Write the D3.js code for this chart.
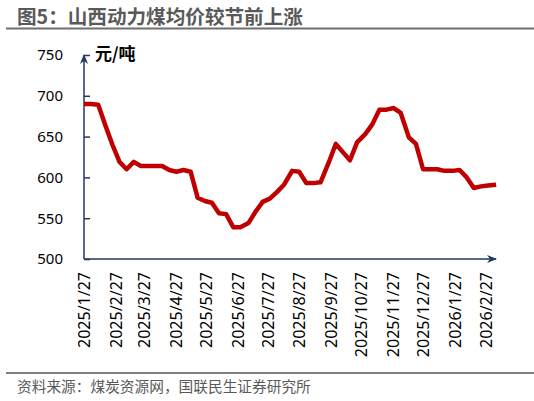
<!DOCTYPE html>
<html>
<head>
<meta charset="utf-8">
<script src="https://cdn.jsdelivr.net/npm/d3@7"></script>
<style>
    body { margin: 0; background: #fff; }
    svg { display: block; }
    .ylab text { font-family: "Noto Sans", sans-serif; font-size: 15px; fill: #000; }
    .xlab text { font-family: "Noto Sans", sans-serif; font-size: 16px; fill: #000; }
</style>
</head>
<body>
<svg id="chart" width="534" height="401"></svg>
<script>
// weekly Shanxi thermal coal average price, yuan/ton
let dates = ["2025-01-27","2025-02-03","2025-02-10","2025-02-17","2025-02-24",
    "2025-03-03","2025-03-10","2025-03-17","2025-03-24","2025-03-31",
    "2025-04-07","2025-04-14","2025-04-21","2025-04-28",
    "2025-05-05","2025-05-12","2025-05-19","2025-05-26",
    "2025-06-02","2025-06-09","2025-06-16","2025-06-23","2025-06-30",
    "2025-07-08","2025-07-15","2025-07-22","2025-07-29",
    "2025-08-05","2025-08-12","2025-08-20","2025-08-27",
    "2025-09-03","2025-09-10","2025-09-17","2025-09-25",
    "2025-10-02","2025-10-09","2025-10-16","2025-10-23","2025-10-31",
    "2025-11-07","2025-11-14","2025-11-21","2025-11-28",
    "2025-12-05","2025-12-13","2025-12-20","2025-12-27",
    "2026-01-03","2026-01-10","2026-01-17","2026-01-25",
    "2026-02-01","2026-02-08","2026-02-15","2026-02-22",
    "2026-03-01","2026-03-09"];

let prices = [690,690,689,664,640,619,610,619,614,614,
    614,614,609,607,609,607,575,571,569,556,
    555,539,539,544,558,570,574,582,591,608,
    607,593,593,594,618,641,631,621,643,653,
    665,683,683,685,679,649,641,610,610,610,
    608,608,609,600,587,589,590,591];

let xTicks = ["2025/1/27","2025/2/27","2025/3/27","2025/4/27","2025/5/27",
    "2025/6/27","2025/7/27","2025/8/27","2025/9/27","2025/10/27",
    "2025/11/27","2025/12/27","2026/1/27","2026/2/27"];

let yTicks = [500, 550, 600, 650, 700, 750];

let parseDash = d3.timeParse("%Y-%m-%d");
let parseSlash = d3.timeParse("%Y/%m/%d");

let data = dates.map(function(d, i) {
    return {date: parseDash(d), value: prices[i]};
});

let svg = d3.select("#chart");
let axisColor = "#203864";

// title and rules
svg.append("text")
    .attr("x", 17).attr("y", 24)
    .style("font-family", "'Noto Sans CJK SC', sans-serif")
    .style("font-weight", "bold")
    .style("font-size", "19.6px")
    .style("fill", "#595959")
    .text("图5：山西动力煤均价较节前上涨");

svg.append("line")
    .attr("x1", 6).attr("x2", 534).attr("y1", 28.5).attr("y2", 28.5)
    .style("stroke", "#6e6e6e").style("stroke-width", 2);

svg.append("line")
    .attr("x1", 6).attr("x2", 534).attr("y1", 373).attr("y2", 373)
    .style("stroke", "#7f7f7f").style("stroke-width", 2);

svg.append("text")
    .attr("x", 17).attr("y", 392)
    .style("font-family", "'Noto Sans CJK SC', sans-serif")
    .style("font-size", "14.7px")
    .style("fill", "#595959")
    .text("资料来源：煤炭资源网，国联民生证券研究所");

// scales
let x = d3.scaleTime()
    .domain([parseSlash("2025/1/27"), parseSlash("2026/2/27")])
    .range([84, 486]);

let y = d3.scaleLinear()
    .domain([500, 750])
    .range([259, 55]);

// arrow marker
svg.append("defs").append("marker")
    .attr("id", "arrow")
    .attr("viewBox", "0 0 10 10")
    .attr("refX", 9).attr("refY", 5)
    .attr("markerUnits", "userSpaceOnUse")
    .attr("markerWidth", 10).attr("markerHeight", 10)
    .attr("orient", "auto")
    .append("path")
    .attr("d", "M0,1 L10,5 L0,9 L3,5 Z")
    .style("fill", axisColor);

// y axis
let yAxis = svg.append("g")
    .attr("class", "ylab")
    .attr("transform", "translate(84,0)")
    .call(d3.axisLeft(y).tickValues(yTicks).tickSizeInner(-6).tickSizeOuter(0).tickPadding(21));

yAxis.select(".domain").remove();
yAxis.selectAll(".tick line").style("stroke", axisColor).style("stroke-width", 1.5);

// x axis
let xAxis = svg.append("g")
    .attr("class", "xlab")
    .attr("transform", "translate(0,259)")
    .call(d3.axisBottom(x)
        .tickValues(xTicks.map(parseSlash))
        .tickFormat(function(d, i) { return xTicks[i]; })
        .tickSize(0));

xAxis.select(".domain").remove();
xAxis.selectAll(".tick text")
    .attr("transform", "rotate(-90)")
    .attr("x", -13)
    .attr("y", 0)
    .attr("dy", "0.36em")
    .style("text-anchor", "end");

// axis lines with arrows
svg.append("line")
    .attr("x1", 84).attr("y1", 259).attr("x2", 84).attr("y2", 55)
    .style("stroke", axisColor).style("stroke-width", 1.5)
    .attr("marker-end", "url(#arrow)");

svg.append("line")
    .attr("x1", 84).attr("y1", 259).attr("x2", 496).attr("y2", 259)
    .style("stroke", axisColor).style("stroke-width", 1.5)
    .attr("marker-end", "url(#arrow)");

// unit label
svg.append("text")
    .attr("x", 95).attr("y", 60)
    .style("font-family", "'Noto Sans CJK SC', sans-serif")
    .style("font-weight", "bold")
    .style("font-size", "17px")
    .style("fill", "#000")
    .text("元/吨");

// price line
let line = d3.line()
    .x(function(d) { return x(d.date); })
    .y(function(d) { return y(d.value); });

svg.append("path")
    .datum(data)
    .attr("d", line)
    .style("fill", "none")
    .style("stroke", "#c00000")
    .style("stroke-width", 4.5)
    .style("stroke-linejoin", "round");
</script>
</body>
</html>
